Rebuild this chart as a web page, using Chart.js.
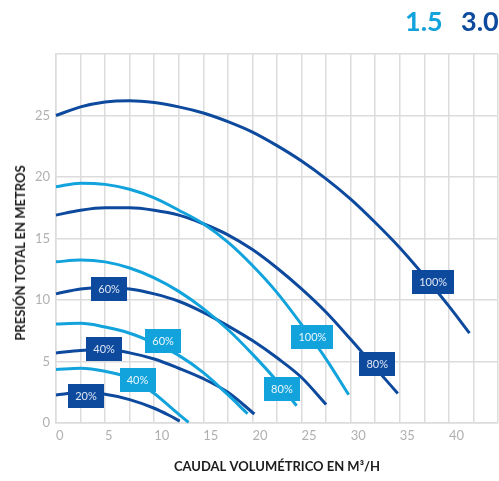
<!DOCTYPE html>
<html>
<head>
<meta charset="utf-8">
<script src="https://cdn.jsdelivr.net/npm/chart.js@4/dist/chart.umd.min.js"></script>
<style>
  html, body { margin: 0; padding: 0; background: #ffffff; }
  #wrap { position: relative; width: 499px; height: 481px; overflow: hidden; }
  canvas { position: absolute; left: 0; top: 0; }
  .leg { position: absolute; top: 5px; font-family: Lato, "Open Sans", sans-serif; font-weight: 700; font-size: 27px; line-height: 1.2; }
  #ytitle { position: absolute; left: 20px; top: 253px; transform: translate(-50%, -50%) rotate(-90deg); white-space: nowrap;
            font-family: Lato, "Open Sans", sans-serif; font-weight: 700; font-size: 13px; color: #1c1c1c; }
</style>
</head>
<body>
<div id="wrap">
  <canvas id="c" width="499" height="481"></canvas>
  <div class="leg" id="leg15" style="left:405px; color:#12a3dc;">1.5</div>
  <div class="leg" id="leg30" style="left:461px; color:#0d4a9e;">3.0</div>
  <div id="ytitle">PRESIÓN TOTAL EN METROS</div>
</div>
<script>
// ---- data (caudal m3/h, presión m) ----
// 3.0 series (dark)
const q_d20  = [0, 2.5, 5, 7.5, 10, 11.5, 12.6];
const h_d20  = [2.28, 2.47, 2.33, 1.9, 1.2, 0.63, 0.15];
const q_d40  = [0, 2.5, 5, 7.5, 10, 12.5, 15, 17.5, 20.2];
const h_d40  = [5.7, 5.9, 6.0, 5.7, 5.2, 4.45, 3.6, 2.5, 0.73];
const q_d60  = [0, 2.5, 5, 7.5, 10, 12.5, 15, 17.5, 20, 22.5, 25, 27.5];
const h_d60  = [10.5, 10.9, 11.0, 10.9, 10.5, 9.9, 9.0, 7.9, 6.7, 5.3, 3.7, 1.5];
const q_d80  = [0, 2.5, 5, 7.5, 10, 12.5, 15, 17.5, 20, 22.5, 25, 27.5, 30, 32.5, 34.8];
const h_d80  = [16.9, 17.3, 17.5, 17.5, 17.3, 16.9, 16.2, 15.3, 14.1, 12.6, 10.9, 9.0, 6.8, 4.5, 2.4];
const q_d100 = [0, 2.5, 5, 7.5, 10, 12.5, 15, 17.5, 20, 22.5, 25, 27.5, 30, 32.5, 35, 37.5, 40, 42.1];
const h_d100 = [25.0, 25.7, 26.1, 26.2, 26.05, 25.7, 25.2, 24.5, 23.65, 22.55, 21.3, 19.85, 18.2, 16.3, 14.25, 11.95, 9.5, 7.3];
// 1.5 series (light)
const q_l40  = [0, 2.5, 5, 7.5, 10, 12, 13.5];
const h_l40  = [4.35, 4.45, 4.2, 3.65, 2.4, 1.05, 0.05];
const q_l60  = [0, 2.5, 5, 7.5, 10, 12.5, 15, 17.5, 19.5];
const h_l60  = [8.05, 8.1, 7.8, 7.3, 6.5, 5.5, 4.1, 2.3, 0.75];
const q_l80  = [0, 2.5, 5, 7.5, 10, 12.5, 15, 17.5, 20, 22.5, 24.5];
const h_l80  = [13.1, 13.25, 13.1, 12.6, 11.8, 10.7, 9.3, 7.6, 5.6, 3.4, 1.4];
const q_l100 = [0, 2.5, 5, 7.5, 10, 12.5, 15, 17.5, 20, 22.5, 25, 27.5, 29.8];
const h_l100 = [19.2, 19.5, 19.4, 19.0, 18.3, 17.3, 16.2, 14.7, 12.8, 10.6, 8.0, 5.2, 2.3];

// percentage tags
const tagText   = ['20%', '40%', '60%', '80%', '100%', '40%', '60%', '80%', '100%'];
const tagQ      = [3.05, 4.9, 5.4, 32.7, 38.4, 8.3, 10.9, 23.0, 26.1];
const tagH      = [2.2, 6.0, 10.9, 4.8, 11.5, 3.5, 6.7, 2.8, 7.0];
const tagSeries = ['3.0', '3.0', '3.0', '3.0', '3.0', '1.5', '1.5', '1.5', '1.5'];

// axis ticks
const xMin = 0, xMax = 45, xGridStep = 2.5, xLabelStep = 5, xLastLabel = 40;
const yMin = 0, yMax = 30, yStep = 5;
const xTitle = 'CAUDAL VOLUMÉTRICO EN M³/H';

const DARK = '#0d4a9e';
const LIGHT = '#12a3dc';

function pts(q, h) { return q.map((v, i) => ({ x: v, y: h[i] })); }
function ds(q, h, color) {
  return { data: pts(q, h), borderColor: color, backgroundColor: color, borderWidth: 3,
           pointRadius: 0, showLine: true, cubicInterpolationMode: 'monotone', fill: false, clip: false };
}

const tagPlugin = {
  id: 'tags',
  afterDatasetsDraw(chart) {
    const ctx = chart.ctx, xs = chart.scales.x, ys = chart.scales.y;
    ctx.save();
    ctx.font = '11px Lato, "Open Sans", sans-serif';
    ctx.textAlign = 'center';
    ctx.textBaseline = 'middle';
    tagText.forEach((t, i) => {
      const cx = xs.getPixelForValue(tagQ[i]);
      const cy = ys.getPixelForValue(tagH[i]);
      const w = 18 + 6 * t.length, hgt = 24;
      ctx.fillStyle = tagSeries[i] === '3.0' ? DARK : LIGHT;
      ctx.fillRect(Math.round(cx - w / 2), Math.round(cy - hgt / 2), w, hgt);
      ctx.fillStyle = tagSeries[i] === '3.0' ? '#dfe6f3' : '#eaf6fc';
      ctx.fillText(t, cx, cy + 0.5);
    });
    ctx.restore();
  }
};

new Chart(document.getElementById('c'), {
  type: 'scatter',
  data: {
    datasets: [
      ds(q_l100, h_l100, LIGHT), ds(q_l80, h_l80, LIGHT), ds(q_l60, h_l60, LIGHT), ds(q_l40, h_l40, LIGHT),
      ds(q_d100, h_d100, DARK), ds(q_d80, h_d80, DARK), ds(q_d60, h_d60, DARK), ds(q_d40, h_d40, DARK), ds(q_d20, h_d20, DARK)
    ]
  },
  options: {
    responsive: false,
    animation: false,
    layout: { padding: { top: 54, right: 1, left: 0, bottom: 0 } },
    plugins: { legend: { display: false }, tooltip: { enabled: false } },
    scales: {
      x: {
        type: 'linear', min: xMin, max: xMax,
        afterFit(s) { s.height = 58; s.paddingRight = 0; s.paddingLeft = 0; },
        grid: { color: '#dcdcdc', lineWidth: 1.5, drawTicks: false },
        border: { color: '#dcdcdc', width: 1.5 },
        ticks: {
          stepSize: xGridStep, autoSkip: false, maxRotation: 0, padding: 5, align: 'start',
          color: '#b0b0b0', font: { family: 'Lato, "Open Sans", sans-serif', size: 13 },
          callback: v => (v % xLabelStep === 0 && v <= xLastLabel) ? String(v) : ''
        },
        title: { display: true, text: xTitle, color: '#1c1c1c', padding: { top: 0, bottom: 6 },
                 font: { family: 'Lato, "Open Sans", sans-serif', size: 13, weight: 'bold' } }
      },
      y: {
        type: 'linear', min: yMin, max: yMax,
        afterFit(s) { s.width = 56; s.paddingTop = 0; s.paddingBottom = 0; },
        grid: { color: '#dcdcdc', lineWidth: 1.5, drawTicks: false },
        border: { color: '#dcdcdc', width: 1.5 },
        ticks: {
          stepSize: yStep, padding: 6,
          color: '#b0b0b0', font: { family: 'Lato, "Open Sans", sans-serif', size: 13 },
          callback: v => v < yMax ? String(v) : ''
        }
      }
    }
  },
  plugins: [tagPlugin]
});
</script>
</body>
</html>
